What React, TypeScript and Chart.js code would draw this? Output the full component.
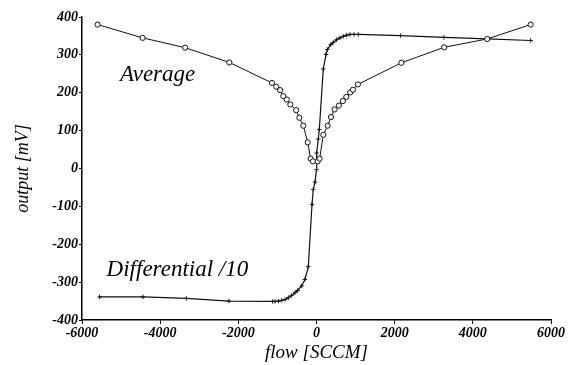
import React, { useEffect, useRef } from "react";
import { Chart, registerables } from "chart.js";

Chart.register(...registerables);

const avgFlow = [-5600, -4450, -3360, -2230, -1140, -1030, -930, -850, -760, -670, -520, -440, -337, -225, -150, -90, 30, 80, 174, 286, 370, 462, 572, 674, 762, 864, 933, 1059, 2171, 3265, 4368, 5479];
const avgOut = [380, 345, 319, 280, 226, 216, 207, 191, 182, 169, 154, 134, 113, 69, 26, 19, 19, 26, 89, 113, 136, 156, 166, 178, 189, 201, 208, 222, 279, 320, 342, 380];

const diffFlow = [-5550, -4440, -3330, -2240, -1120, -1060, -975, -890, -805, -720, -635, -550, -484, -380, -296, -210, -115, -82, -38, 0, 5, 46, 72, 174, 244, 277, 364, 430, 515, 601, 686, 772, 857, 960, 1070, 2150, 3260, 4370, 5480];
const diffOut = [-339, -339, -343, -350, -351, -351, -350, -348, -346, -341, -335, -328, -322, -310, -293, -259, -95, -55, -36, -3, 41, 78, 103, 263, 301, 314, 327, 333, 340, 345, 349, 352, 354, 354, 354, 351, 346, 342, 338];

const annotations = [
  { text: "Average", x: -5030, y: 230 },
  { text: "Differential /10", x: -5370, y: -285 },
];

const xTitle = "flow [SCCM]";
const yTitle = "output [mV]";

const SERIF = '"Liberation Serif", "Times New Roman", serif';

export default function App() {
  const ref = useRef<HTMLCanvasElement | null>(null);

  useEffect(() => {
    if (!ref.current) return;
    const labelPlugin = {
      id: "textLabels",
      afterDraw(chart: any) {
        const { ctx, scales } = chart;
        ctx.save();
        ctx.fillStyle = "#000";
        ctx.font = `italic 23px ${SERIF}`;
        ctx.textAlign = "left";
        ctx.textBaseline = "alphabetic";
        for (const a of annotations) {
          ctx.fillText(a.text, scales.x.getPixelForValue(a.x), scales.y.getPixelForValue(a.y));
        }
        ctx.restore();
      },
    };
    const chart = new Chart(ref.current, {
      type: "scatter",
      data: {
        datasets: [
          {
            label: "Average",
            data: avgFlow.map((x, i) => ({ x, y: avgOut[i] })),
            showLine: true,
            borderColor: "#111",
            borderWidth: 1,
            pointStyle: "circle",
            pointRadius: 2.6,
            pointBorderWidth: 1,
            pointBackgroundColor: "#fff",
            pointBorderColor: "#111",
          },
          {
            label: "Differential /10",
            data: diffFlow.map((x, i) => ({ x, y: diffOut[i] })),
            showLine: true,
            borderColor: "#111",
            borderWidth: 1.2,
            pointStyle: "cross",
            pointRadius: 2.2,
            pointBorderWidth: 1,
            pointBorderColor: "#111",
          },
        ],
      },
      options: {
        animation: false,
        responsive: false,
        devicePixelRatio: 1,
        layout: { padding: { top: 17, right: 18, left: 0, bottom: 0 } },
        plugins: {
          legend: { display: false },
          tooltip: { enabled: false },
        },
        scales: {
          x: {
            type: "linear",
            min: -6000,
            max: 6000,
            afterFit: (s: any) => {
              s.height = 45;
            },
            ticks: {
              stepSize: 2000,
              color: "#000",
              font: { family: SERIF, size: 14, style: "italic", weight: "bold" },
              padding: 1,
              maxRotation: 0,
              callback: (v: any) => String(v),
            },
            grid: { drawOnChartArea: false, color: "#000", tickLength: 4 },
            border: { color: "#000", width: 1.5 },
            title: {
              display: true,
              text: xTitle,
              color: "#000",
              font: { family: SERIF, size: 19, style: "italic" },
              padding: { top: 0, bottom: 1 },
            },
          },
          y: {
            type: "linear",
            min: -400,
            max: 400,
            afterFit: (s: any) => {
              s.width = 82;
            },
            ticks: {
              stepSize: 100,
              color: "#000",
              font: { family: SERIF, size: 14, style: "italic", weight: "bold" },
              padding: 1,
              callback: (v: any) => String(v),
            },
            grid: { drawOnChartArea: false, color: "#000", tickLength: 3 },
            border: { color: "#000", width: 1.5 },
            title: {
              display: true,
              text: yTitle,
              color: "#000",
              font: { family: SERIF, size: 18, style: "italic" },
              padding: { top: 12, bottom: 0 },
            },
          },
        },
      },
      plugins: [labelPlugin],
    } as any);
    return () => chart.destroy();
  }, []);

  return (
    <div style={{ position: "absolute", left: 0, top: 0, width: 569, height: 365, background: "#fff" }}>
      <canvas ref={ref} width={569} height={365} />
    </div>
  );
}
